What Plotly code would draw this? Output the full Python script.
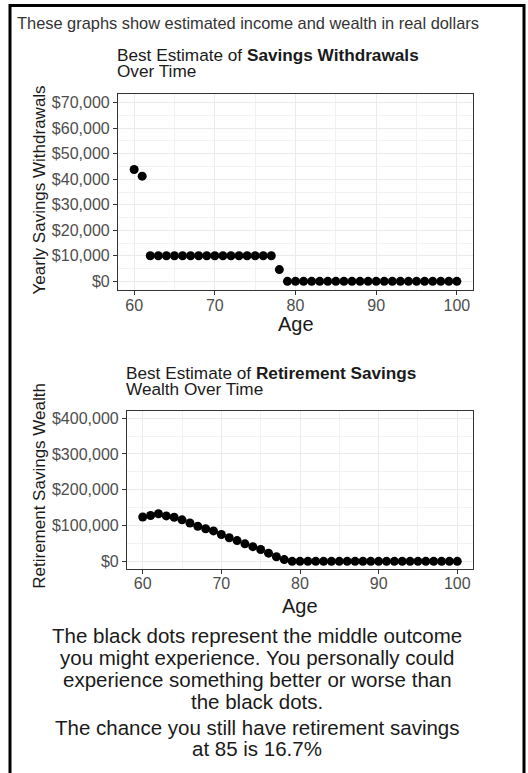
import plotly.graph_objects as go

W, H = 528, 773

# ---- data ----
ages = list(range(60, 101))
withdrawals = [43800, 41200] + [10000] * 16 + [4600] + [0] * 22
wealth = [124000, 128000, 133000, 127000, 123000, 116000, 107000, 98000, 91000,
          85000, 75000, 66000, 58000, 49000, 41000, 33000, 23000, 13000, 5000] + [0] * 22

x_ticks = [60, 70, 80, 90, 100]
y1_ticks = [0, 10000, 20000, 30000, 40000, 50000, 60000, 70000]
y2_ticks = [0, 100000, 200000, 300000, 400000]

header_text = "These graphs show estimated income and wealth in real dollars"
title1_a = "Best Estimate of <b>Savings Withdrawals</b>"
title1_b = "Over Time"
title2_a = "Best Estimate of <b>Retirement Savings</b>"
title2_b = "Wealth Over Time"
ytitle1 = "Yearly Savings Withdrawals"
ytitle2 = "Retirement Savings Wealth"
xtitle = "Age"
note_lines = ["The black dots represent the middle outcome",
              "you might experience. You personally could",
              "experience something better or worse than",
              "the black dots."]
chance_lines = ["The chance you still have retirement savings",
                "at 85 is 16.7%"]

FONT = "Liberation Sans, Arial, Helvetica, sans-serif"


def px(x):
    return x / W


def py(y):
    return 1 - y / H


def dollars(v):
    return "$" + format(v, ",d")


fig = go.Figure()
fig.add_trace(go.Scatter(x=ages, y=withdrawals, mode="markers",
                         marker=dict(color="black", size=9),
                         xaxis="x", yaxis="y", showlegend=False, hoverinfo="x+y"))
fig.add_trace(go.Scatter(x=ages, y=wealth, mode="markers",
                         marker=dict(color="black", size=9),
                         xaxis="x2", yaxis="y2", showlegend=False, hoverinfo="x+y"))

axis_common = dict(
    showline=True, mirror=True, linecolor="#333333", linewidth=1.2,
    ticks="outside", ticklen=4, tickcolor="#333333", tickwidth=1,
    tickfont=dict(family=FONT, size=16, color="#4D4D4D"),
    showgrid=True, gridcolor="#EBEBEB", gridwidth=1.2,
    zeroline=False, fixedrange=True,
)
minor_common = dict(showgrid=True, gridcolor="#F2F2F2", gridwidth=0.8, ticks="")

fig.update_layout(
    width=W, height=H,
    margin=dict(l=0, r=0, t=0, b=0),
    paper_bgcolor="white", plot_bgcolor="white",
    font=dict(family=FONT, color="#1a1a1a"),
    showlegend=False,
    xaxis=dict(domain=[px(118), px(473)], range=[58, 102], tickvals=x_ticks,
               anchor="y", minor=dict(dtick=5, tick0=60, **minor_common),
               ticklabelstandoff=-4, **axis_common),
    yaxis=dict(domain=[py(290), py(93)], range=[-3500, 73500], tickvals=y1_ticks,
               ticktext=[dollars(v) for v in y1_ticks], anchor="x",
               minor=dict(dtick=5000, tick0=0, **minor_common),
               **axis_common),
    xaxis2=dict(domain=[px(127), px(473)], range=[58, 102], tickvals=x_ticks,
                anchor="y2", minor=dict(dtick=5, tick0=60, **minor_common),
                ticklabelstandoff=-4, **axis_common),
    yaxis2=dict(domain=[py(569), py(411)], range=[-20000, 420000], tickvals=y2_ticks,
                ticktext=[dollars(v) for v in y2_ticks], anchor="x2",
                minor=dict(dtick=50000, tick0=0, **minor_common),
                **axis_common),
)

ann = []


def add_text(text, x, y, size, xanchor="center", color="#1a1a1a", angle=0):
    ann.append(dict(text=text, x=px(x), y=py(y), xref="paper", yref="paper",
                    xanchor=xanchor, yanchor="middle", showarrow=False,
                    textangle=angle,
                    font=dict(family=FONT, size=size, color=color)))


add_text(header_text, 15, 22, 16.4, xanchor="left", color="#333333")
add_text(title1_a, 115, 54, 17.2, xanchor="left")
add_text(title1_b, 115, 70, 17.2, xanchor="left")
add_text(ytitle1, 40, 190, 17, angle=-90)
add_text(xtitle, 296, 324, 20)

add_text(title2_a, 124, 373, 17.2, xanchor="left")
add_text(title2_b, 124, 389, 17.2, xanchor="left")
add_text(ytitle2, 40, 486, 17, angle=-90)
add_text(xtitle, 300, 607, 20)

for i, line in enumerate(note_lines):
    add_text(line, 257, 636 + 22 * i, 20.5)
for i, line in enumerate(chance_lines):
    add_text(line, 257, 728 + 21 * i, 20.5)

fig.update_layout(annotations=ann)

# outer frame
fig.add_shape(type="rect", xref="paper", yref="paper",
              x0=px(10), x1=px(524), y0=py(790), y1=py(4.5),
              line=dict(color="black", width=3), fillcolor="rgba(0,0,0,0)", layer="above")

fig.write_html("out.html", config={"displayModeBar": False},
               post_script="document.body.style.margin='0';")
